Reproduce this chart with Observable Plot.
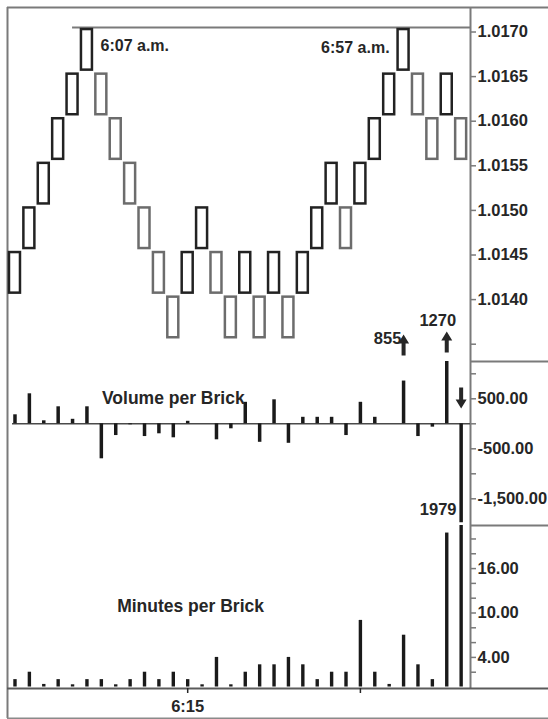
<!DOCTYPE html>
<html><head><meta charset="utf-8">
<script src="https://cdn.jsdelivr.net/npm/d3@7"></script>
<script src="https://cdn.jsdelivr.net/npm/@observablehq/plot@0.6"></script>
<style>
html,body{margin:0;padding:0;background:#fff;}
#chart{position:relative;width:548px;height:719px;overflow:hidden;background:#fff;}
#chart svg{position:absolute;left:0;}
</style></head><body><div id="chart"></div>
<script>
// ---------- data ----------
const brickSize = 0.0005;
const brickLow = [1.01405, 1.01455, 1.01505, 1.01555, 1.01605, 1.01655, 1.01605, 1.01555,
  1.01505, 1.01455, 1.01405, 1.01355, 1.01405, 1.01455, 1.01405, 1.01355,
  1.01405, 1.01355, 1.01405, 1.01355, 1.01405, 1.01455, 1.01505, 1.01455,
  1.01505, 1.01555, 1.01605, 1.01655, 1.01605, 1.01555, 1.01605, 1.01555];
const brickDir = ["up","up","up","up","up","up","down","down",
  "down","down","down","down","up","up","down","down",
  "up","down","up","down","up","up","up","down",
  "up","up","up","up","down","down","up","down"];
const volumePerBrick = [180, 600, 60, 340, 90, 340, -700, -235, -20, -255, -200, -280, 50, 0, -320, -100,
  430, -370, 480, -390, 130, 130, 130, -235, 430, 130, 0, 855, -255, -67, 1270, -1979];
const minutesPerBrick = [1, 2, 0.35, 1, 0.3, 1, 1, 0.3, 1, 2, 1, 2, 1, 0.3, 4, 0.3,
  2, 3, 3, 4, 3, 1, 2, 2, 9, 2, 0.35, 7, 3, 1, 20.8, 30];
const priceTicks = [1.0140, 1.0145, 1.0150, 1.0155, 1.0160, 1.0165, 1.0170];
const priceMinorTicks = [1.0135];
const volumeTicks = [500, -500, -1500];
const volumeTickLabels = ["500.00", "-500.00", "-1,500.00"];
const volumeMinorTicks = [1000, 0, -1000];
const minuteTicks = [4, 10, 16];
const minuteTickLabels = ["4.00", "10.00", "16.00"];
const minuteMinorTicks = [2, 6, 8, 12, 14, 18, 20];
const timeTickCols = [12, 24];
const timeTickLabels = ["6:15", ""];
const peakCols = [5, 27];
const peakLabels = ["6:07 a.m.", "6:57 a.m."];
const resistanceLevel = 1.01705;
const resistanceStartCol = 4;
const calloutCols = [27, 30, 31];
const calloutLabels = ["855", "1270", "1979"];

// ---------- tables ----------
const bricks = brickLow.map((low, i) => ({col: i, low, high: low + brickSize, dir: brickDir[i]}));
const vol = volumePerBrick.map((v, i) => ({col: i, v}));
const mins = minutesPerBrick.map((m, i) => ({col: i, m}));

// ---------- styling ----------
const INK = "#262626", BAR = "#1a1a1a", LINE = "#7a7a7a", UP = "#222222", DOWN = "#6c6c6c";
const FONT = "'Liberation Sans', Arial, Helvetica, sans-serif";
const W = 548, ML = 7, MR = 78;
const xDomain = [-0.52, 31.65];
const style = {fontFamily: FONT, fontSize: "17px", fontWeight: "bold", color: INK,
  background: "transparent", overflow: "visible"};
const common = {width: W, marginLeft: ML, marginRight: MR, x: {domain: xDomain, axis: null}, style};

const upArrow = {draw(c) { const L = 21, s = 2, h = 5.5, hh = 9;
  c.moveTo(-s, 0); c.lineTo(s, 0); c.lineTo(s, -L + hh); c.lineTo(h, -L + hh); c.lineTo(0, -L);
  c.lineTo(-h, -L + hh); c.lineTo(-s, -L + hh); c.closePath(); }};
const downArrow = {draw(c) { const L = 21, s = 2, h = 5.5, hh = 9;
  c.moveTo(-s, 0); c.lineTo(s, 0); c.lineTo(s, L - hh); c.lineTo(h, L - hh); c.lineTo(0, L);
  c.lineTo(-h, L - hh); c.lineTo(-s, L - hh); c.closePath(); }};

// right-hand axis: tick rules + labels, positioned by the y scale
function rightAxis(major, minor, fmt) {
  return [
    Plot.ruleY(major.concat(minor), {x1: xDomain[1], x2: xDomain[1], insetRight: -6, stroke: LINE, strokeWidth: 1.5}),
    Plot.text(major, {y: d => d, text: fmt, frameAnchor: "right", dx: 7, textAnchor: "start", fill: INK, fontSize: 16.5})
  ];
}

// ---------- price pane ----------
const pDomain = [1.0133061, 1.0172747];
const price = Plot.plot({
  ...common, height: 361, marginTop: 7, marginBottom: 0,
  y: {domain: pDomain, axis: null, label: null},
  color: {type: "ordinal", domain: ["up", "down"], range: [UP, DOWN]},
  marks: [
    Plot.ruleY([pDomain[1]], {stroke: LINE, strokeWidth: 2, insetRight: -MR}),
    Plot.ruleX([xDomain[0]], {stroke: LINE, strokeWidth: 2}),
    Plot.ruleX([xDomain[1]], {stroke: LINE, strokeWidth: 2}),
    Plot.ruleY([resistanceLevel], {x1: resistanceStartCol, x2: xDomain[1], stroke: LINE, strokeWidth: 2}),
    Plot.rect(bricks, {x1: d => d.col - 0.5, x2: d => d.col + 0.5, y1: "low", y2: "high",
      insetLeft: 1.7, insetRight: 1.7, insetTop: 2, insetBottom: 2,
      fill: "white", stroke: "dir", strokeWidth: 2.5}),
    Plot.text([peakLabels[0]], {x: peakCols[0], y: resistanceLevel, text: d => d, dx: 13.6, dy: 17.9,
      textAnchor: "start", fontSize: 16, fill: INK}),
    Plot.text([peakLabels[1]], {x: peakCols[1], y: resistanceLevel, text: d => d, dx: -14, dy: 19.9,
      textAnchor: "end", fontSize: 16, fill: INK}),
    ...rightAxis(priceTicks, priceMinorTicks, d3.format(".4f"))
  ]
});

// ---------- volume pane ----------
const vDomain = [-2034, 1246];
const volume = Plot.plot({
  ...common, height: 164, marginTop: 0, marginBottom: 0,
  y: {domain: vDomain, clamp: true, axis: null, label: null},
  marks: [
    Plot.ruleX([xDomain[0]], {stroke: LINE, strokeWidth: 2}),
    Plot.ruleX([xDomain[1]], {stroke: LINE, strokeWidth: 2}),
    Plot.ruleY([vDomain[1]], {x1: xDomain[1], x2: xDomain[1], insetRight: -MR, stroke: LINE, strokeWidth: 2}),
    Plot.ruleY([0], {insetLeft: 5, stroke: "#4a4a4a", strokeWidth: 1.5}),
    Plot.ruleX(vol, {x: "col", y1: 0, y2: "v", stroke: BAR, strokeWidth: 3.5}),
    ...rightAxis(volumeTicks, volumeMinorTicks, d => volumeTickLabels[volumeTicks.indexOf(d)]),
    Plot.text(["Volume per Brick"], {x: 11, frameAnchor: "top", dy: 30.4, text: d => d, fontSize: 17.5, fill: INK}),
    Plot.dot([calloutCols[0]], {x: d => d, frameAnchor: "top", dy: -6, symbol: upArrow, fill: INK, stroke: "none"}),
    Plot.dot([calloutCols[1]], {x: d => d, frameAnchor: "top", dy: -9, symbol: upArrow, fill: INK, stroke: "none"}),
    Plot.dot([calloutCols[2]], {x: d => d, frameAnchor: "top", dy: 26, symbol: downArrow, fill: INK, stroke: "none"}),
    Plot.text([0], {x: calloutCols[0], frameAnchor: "top", dy: -29.3, dx: -16, text: () => calloutLabels[0], fontSize: 16.5, fill: INK}),
    Plot.text([1], {x: calloutCols[1], frameAnchor: "top", dy: -47.3, dx: -9, text: () => calloutLabels[1], fontSize: 16.5, fill: INK}),
    Plot.text([2], {x: calloutCols[2], frameAnchor: "bottom", dy: -10.3, dx: -23, text: () => calloutLabels[2], fontSize: 16.5, fill: INK})
  ]
});

// ---------- minutes pane ----------
const mDomain = [-0.2, 21.82];
const minutes = Plot.plot({
  ...common, height: 194, marginTop: 0, marginBottom: 31,
  y: {domain: mDomain, clamp: true, axis: null, label: null},
  marks: [
    Plot.ruleX([xDomain[0]], {stroke: LINE, strokeWidth: 2, insetBottom: -30}),
    Plot.ruleX([xDomain[1]], {stroke: LINE, strokeWidth: 2}),
    Plot.ruleY([mDomain[1]], {x1: xDomain[1], x2: xDomain[1], insetRight: -MR, stroke: LINE, strokeWidth: 2}),
    Plot.ruleY([mDomain[0]], {insetRight: -MR, stroke: "#5a5a5a", strokeWidth: 2}),
    Plot.ruleY([mDomain[0]], {insetRight: -MR, dy: 30, stroke: "#8a8a8a", strokeWidth: 2}),
    Plot.ruleX(mins, {x: "col", y1: 0, y2: "m", stroke: BAR, strokeWidth: 3.4}),
    ...rightAxis(minuteTicks, minuteMinorTicks, d => minuteTickLabels[minuteTicks.indexOf(d)]),
    Plot.ruleX(timeTickCols, {x: d => d, y1: mDomain[0], y2: mDomain[0], insetBottom: -5, stroke: INK, strokeWidth: 1.5}),
    Plot.text(timeTickCols, {x: d => d, text: d => timeTickLabels[timeTickCols.indexOf(d)],
      frameAnchor: "bottom", dy: 12, lineAnchor: "top", fill: INK, fontSize: 16.5}),
    Plot.text(["Minutes per Brick"], {x: 12.2, frameAnchor: "top", dy: 74.4, text: d => d, fontSize: 17.5, fill: INK})
  ]
});

const chart = document.getElementById("chart");
[[price, 0], [volume, 361], [minutes, 525]].forEach(([svg, top]) => {
  svg.style.top = top + "px";
  svg.style.position = "absolute";
  chart.appendChild(svg);
});
</script></body></html>
